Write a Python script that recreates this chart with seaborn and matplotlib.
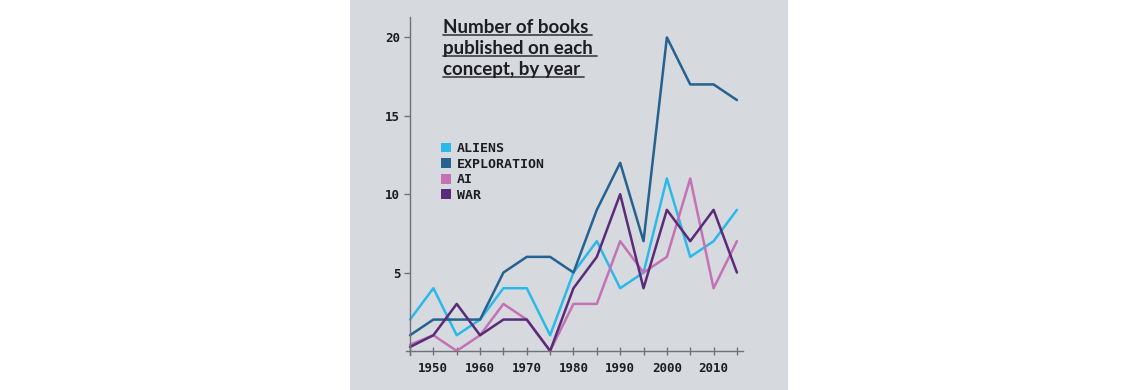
import numpy as np
import pandas as pd
import matplotlib
matplotlib.use("Agg")
import matplotlib.pyplot as plt
import seaborn as sns
from matplotlib.patches import Patch, Rectangle
from matplotlib.lines import Line2D


YEARS = list(range(1945, 2020, 5))
ALIENS = [2, 4, 1, 2, 4, 4, 1, 5, 7, 4, 5, 11, 6, 7, 9]
EXPLORATION = [1, 2, 2, 2, 5, 6, 6, 5, 9, 12, 7, 20, 17, 17, 16]
AI = [0.4, 1, 0, 1, 3, 2, 0, 3, 3, 7, 5, 6, 11, 4, 7]
WAR = [0.25, 1, 3, 1, 2, 2, 0, 4, 6, 10, 4, 9, 7, 9, 5]

SERIES = ["ALIENS", "EXPLORATION", "AI", "WAR"]
COLORS = ["#2bb9ea", "#25628f", "#c472b5", "#5a2b78"]
TITLE_LINES = ["Number of books", "published on each", "concept, by year"]

PANEL = "#d6d9de"
AXIS_GREY = "#6f7378"
TEXT = "#1e1e22"


def build_frame():
    values = [ALIENS, EXPLORATION, AI, WAR]
    rows = []
    for name, vals in zip(SERIES, values):
        for year, v in zip(YEARS, vals):
            rows.append({"year": year, "books": v, "concept": name})
    return pd.DataFrame(rows)


def main():
    sns.set_style("white")
    plt.rcParams["font.family"] = ["DejaVu Sans Mono"]

    df = build_frame()

    fig = plt.figure(figsize=(11.4, 3.9), dpi=100)
    fig.patch.set_facecolor("white")
    # grey panel behind the chart
    fig.patches.append(Rectangle((350 / 1140, 0), 438 / 1140, 1, transform=fig.transFigure,
                                 facecolor=PANEL, edgecolor="none", zorder=-5))

    ax = fig.add_axes([406 / 1140, 1 - 355 / 390, 337 / 1140, 338.3 / 390])
    ax.set_facecolor("none")
    ax.set_zorder(2)

    sns.lineplot(data=df, x="year", y="books", hue="concept", hue_order=SERIES,
                 palette=COLORS, linewidth=1.8, legend=False, ax=ax)

    ax.set_xlim(1944.14, 2016.3)
    ax.set_ylim(-0.26, 21.32)
    ax.set_xlabel("")
    ax.set_ylabel("")

    for side in ["top", "right"]:
        ax.spines[side].set_visible(False)
    ax.spines["left"].set_position(("data", 1945))
    ax.spines["bottom"].set_position(("data", 0))
    for side in ["left", "bottom"]:
        ax.spines[side].set_color(AXIS_GREY)
        ax.spines[side].set_linewidth(1.0)

    ax.set_xticks(range(1950, 2020, 10))
    ax.set_xticks(range(1945, 2020, 10), minor=True)
    ax.set_xticklabels([str(y) for y in range(1950, 2020, 10)])
    ax.set_yticks([5, 10, 15, 20])
    ax.set_yticklabels(["5", "10", "15", "20"])

    # seaborn's white style switches ticks off, turn them back on
    ax.tick_params(axis="x", which="both", bottom=True, direction="inout", length=6,
                   width=1, color=AXIS_GREY, pad=5)
    ax.tick_params(axis="x", which="major", labelsize=9, labelcolor=TEXT)
    ax.tick_params(axis="y", left=True, direction="out", length=4, width=1, color=AXIS_GREY,
                   labelsize=9, labelcolor=TEXT, pad=3)
    for lab in ax.get_xticklabels() + ax.get_yticklabels():
        lab.set_fontweight("bold")

    handles = [Patch(facecolor=c, edgecolor="none", label=s) for s, c in zip(SERIES, COLORS)]
    leg = ax.legend(handles=handles, loc="upper left", bbox_to_anchor=(441 / 1140, 1 - 142 / 390),
                    bbox_transform=fig.transFigure, frameon=False, handlelength=0.75,
                    handleheight=0.75, handletextpad=0.45, labelspacing=0.2,
                    borderpad=0, borderaxespad=0,
                    prop={"family": "DejaVu Sans Mono", "weight": "bold", "size": 9.5})
    for t in leg.get_texts():
        t.set_color(TEXT)

    # title, one text per line so each line can get its own underline
    baselines = [33, 54, 75]
    texts = []
    for line, b in zip(TITLE_LINES, baselines):
        t = fig.text(443 / 1140, 1 - b / 390, line, ha="left", va="baseline",
                     fontsize=13.5, fontweight="bold", family="Lato", color=TEXT)
        texts.append(t)

    fig.canvas.draw()
    renderer = fig.canvas.get_renderer()
    for t, b in zip(texts, baselines):
        bb = t.get_window_extent(renderer)
        y = 1 - (b + 2) / 390
        fig.add_artist(Line2D([bb.x0 / 1140, (bb.x1 + 4) / 1140], [y, y],
                              transform=fig.transFigure, color="#4a4a4e", linewidth=1.3))

    fig.savefig("out.png", dpi=100, facecolor=fig.get_facecolor())
    plt.close(fig)


if __name__ == "__main__":
    main()
